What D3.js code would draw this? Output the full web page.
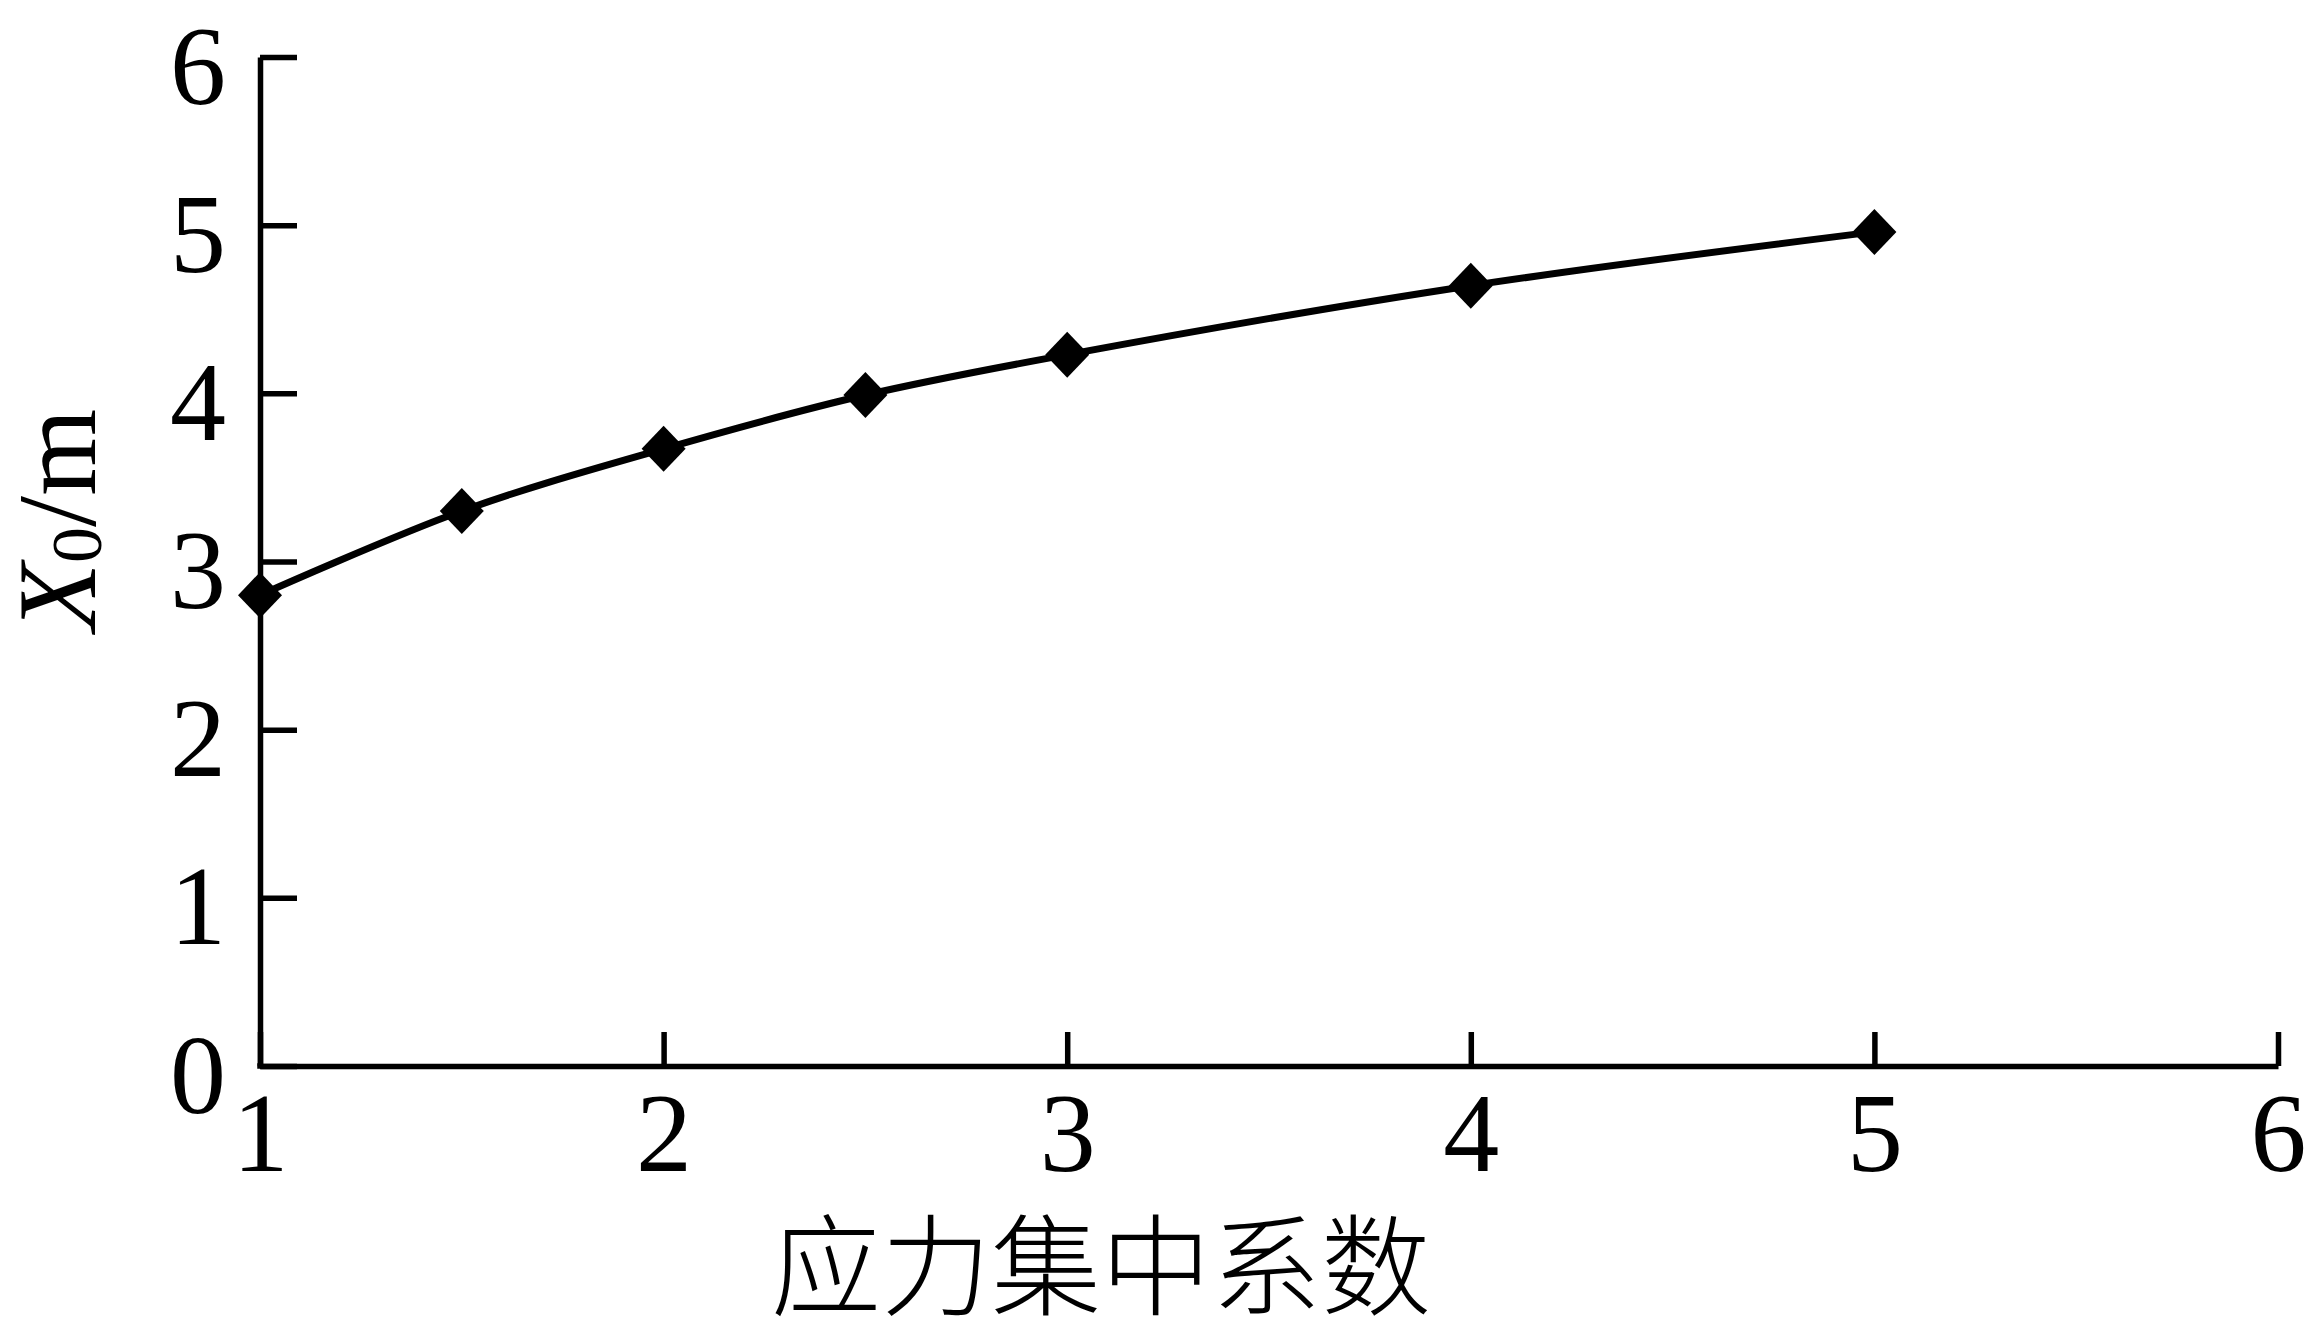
<!DOCTYPE html>
<html>
<head>
<meta charset="utf-8">
<script src="https://cdn.jsdelivr.net/npm/d3@7"></script>
<style>
  body { margin: 0; background: #fff; }
  .axis path, .axis line { stroke: #000; stroke-width: 5.5; }
  .axis text { font-family: "Liberation Serif", "Times New Roman", serif; font-size: 112px; fill: #000; }
</style>
</head>
<body>
<script>
  // stress concentration factor vs X0 (m)
  var factors = [1, 1.5, 2, 2.5, 3, 4, 5],
    x0Values  = [2.8, 3.3, 3.67, 3.99, 4.23, 4.64, 4.96],
    xTicks    = [1, 2, 3, 4, 5, 6],
    yTicks    = [0, 1, 2, 3, 4, 5, 6];

  var xTitle = '应力集中系数';

  var margin = {top: 57, right: 32, bottom: 277, left: 260},
    width    = 2310 - margin.left - margin.right,
    height   = 1343 - margin.top - margin.bottom;

  var x = d3.scaleLinear().domain([1, 6]).range([0, width]),
    y   = d3.scaleLinear().domain([0, 6]).range([height, 0]);

  var svg = d3.select('body').append('svg')
    .attr('width', 2310)
    .attr('height', 1343);

  var g = svg.append('g')
    .attr('transform', 'translate(' + margin.left + ',' + margin.top + ')');

  var xAxis = d3.axisBottom(x).tickValues(xTicks).tickFormat(d3.format('d'))
      .tickSizeInner(-34).tickSizeOuter(0).tickPadding(0),
    yAxis   = d3.axisLeft(y).tickValues(yTicks).tickFormat(d3.format('d'))
      .tickSizeInner(-37).tickSizeOuter(0).tickPadding(0);

  var gx = g.append('g')
    .attr('class', 'x axis')
    .attr('transform', 'translate(0,' + height + ')')
    .call(xAxis);
  gx.selectAll('text').attr('y', 105).attr('dy', null);

  var gy = g.append('g')
    .attr('class', 'y axis')
    .call(yAxis);
  gy.selectAll('text').attr('x', -34).attr('dy', 46);

  // join the corner
  g.append('rect')
    .attr('x', -2.75).attr('y', height - 2.75)
    .attr('width', 5.5).attr('height', 5.5)
    .attr('fill', '#000');

  var line = d3.line()
    .x(function(d, i) { return x(factors[i]); })
    .y(function(d) { return y(d); })
    .curve(d3.curveCatmullRom.alpha(0.5));

  g.append('path')
    .datum(x0Values)
    .attr('fill', 'none')
    .attr('stroke', '#000')
    .attr('stroke-width', 7)
    .attr('d', line);

  var hw = 22, hh = 23;
  g.selectAll('.marker')
    .data(x0Values)
    .enter().append('path')
    .attr('class', 'marker')
    .attr('fill', '#000')
    .attr('d', function(d, i) {
      var cx = x(factors[i]), cy = y(d);
      return 'M' + cx + ',' + (cy - hh) + 'L' + (cx + hw) + ',' + cy +
        'L' + cx + ',' + (cy + hh) + 'L' + (cx - hw) + ',' + cy + 'Z';
    });

  // axis titles
  svg.append('text')
    .attr('x', 1101)
    .attr('y', 1307)
    .attr('text-anchor', 'middle')
    .style('font-family', '"Noto Sans CJK SC", sans-serif')
    .style('font-size', '110px')
    .style('font-weight', 300)
    .text(xTitle);

  var yLabel = svg.append('text')
    .attr('transform', 'translate(95,520) rotate(-90)')
    .attr('text-anchor', 'middle')
    .style('font-family', '"Liberation Serif", "Times New Roman", serif')
    .style('font-size', '112px');
  yLabel.append('tspan').style('font-style', 'italic').text('X');
  yLabel.append('tspan').attr('dy', 6).style('font-size', '72px').text('0');
  yLabel.append('tspan').attr('dy', -6).text('/m');
</script>
</body>
</html>
